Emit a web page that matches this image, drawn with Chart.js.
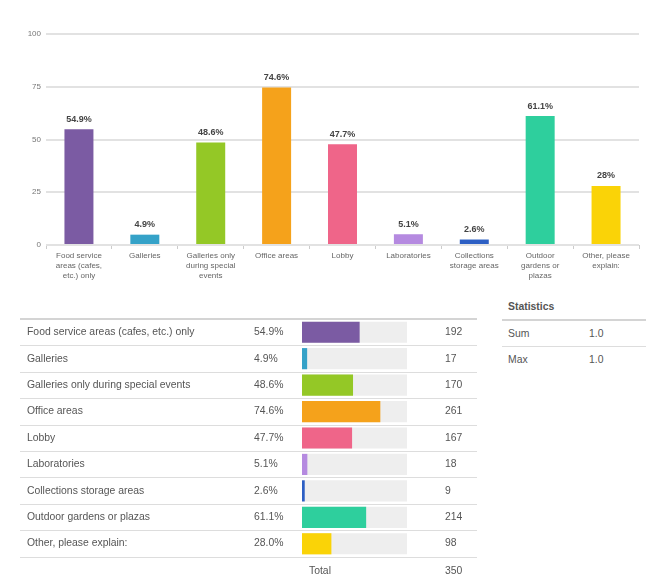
<!DOCTYPE html>
<html>
<head>
<meta charset="utf-8">
<script src="https://cdn.jsdelivr.net/npm/chart.js@4/dist/chart.umd.min.js"></script>
<style>
  body { margin: 0; background: #fff; font-family: "Liberation Sans", Arial, sans-serif; color: #555; }
  #wrap { position: relative; width: 650px; height: 588px; overflow: hidden; }
  .abs { position: absolute; }
  .cell { position: absolute; font-size: 10.4px; line-height: 12px; white-space: nowrap; color: #555; }
  .line { position: absolute; height: 1px; background: #ddd; }
</style>
</head>
<body>
<div id="wrap">
  <div class="abs" style="left:0;top:0;width:650px;height:290px;"><canvas id="topChart"></canvas></div>
  <div class="abs" style="left:302px;top:319px;width:105px;height:238px;"><canvas id="miniChart"></canvas></div>
  <div id="table"></div>
</div>
<script>
const categories = [
  'Food service areas (cafes, etc.) only',
  'Galleries',
  'Galleries only during special events',
  'Office areas',
  'Lobby',
  'Laboratories',
  'Collections storage areas',
  'Outdoor gardens or plazas',
  'Other, please explain:'
];
const tickLabels = [
  ['Food service', 'areas (cafes,', 'etc.) only'],
  ['Galleries'],
  ['Galleries only', 'during special', 'events'],
  ['Office areas'],
  ['Lobby'],
  ['Laboratories'],
  ['Collections', 'storage areas'],
  ['Outdoor', 'gardens or', 'plazas'],
  ['Other, please', 'explain:']
];
const percents = [54.9, 4.9, 48.6, 74.6, 47.7, 5.1, 2.6, 61.1, 28];
const counts = [192, 17, 170, 261, 167, 18, 9, 214, 98];
const total = 350;
const statLabels = ['Sum', 'Max'];
const statValues = ['1.0', '1.0'];
const yTicks = [0, 25, 50, 75, 100];

const palette = ['#7b5ba3', '#35a2c8', '#94c826', '#f5a21b', '#ef6589', '#b58ae0', '#2d5fc4', '#2ecf9d', '#fad307'];
const font = '"Liberation Sans", Arial, sans-serif';

// value labels over the bars
const valueLabels = {
  id: 'valueLabels',
  afterDatasetsDraw(chart) {
    const ctx = chart.ctx;
    const meta = chart.getDatasetMeta(0);
    ctx.save();
    ctx.font = 'bold 9px ' + font;
    ctx.fillStyle = '#444';
    ctx.textAlign = 'center';
    ctx.textBaseline = 'middle';
    meta.data.forEach((bar, i) => {
      ctx.fillText(percents[i] + '%', bar.x, bar.y - 10);
    });
    ctx.restore();
  }
};

new Chart(document.getElementById('topChart'), {
  type: 'bar',
  data: {
    labels: tickLabels,
    datasets: [{
      data: percents,
      backgroundColor: palette,
      barPercentage: 0.44,
      categoryPercentage: 1
    }]
  },
  options: {
    responsive: true,
    maintainAspectRatio: false,
    animation: false,
    layout: { padding: { top: 34, right: 11, left: 0, bottom: 0 } },
    plugins: { legend: { display: false }, tooltip: { enabled: false } },
    scales: {
      x: {
        afterFit: s => { s.height = 45; },
        grid: { drawOnChartArea: false, drawTicks: true, tickLength: 4, color: '#ccc', offset: true },
        border: { display: false },
        ticks: { color: '#666', font: { size: 8, family: font, lineHeight: 1.25 }, padding: 2, maxRotation: 0, autoSkip: false }
      },
      y: {
        min: 0,
        max: 100,
        afterFit: s => { s.width = 46; },
        afterBuildTicks: s => { s.ticks = yTicks.map(v => ({ value: v })); },
        grid: { color: '#e2e2e2', lineWidth: 2, drawTicks: false },
        border: { display: false },
        ticks: { color: '#777', font: { size: 8, family: font }, padding: 5 }
      }
    }
  },
  plugins: [valueLabels]
});

new Chart(document.getElementById('miniChart'), {
  type: 'bar',
  data: {
    labels: categories,
    datasets: [
      { data: percents, backgroundColor: palette, barPercentage: 0.8, categoryPercentage: 1, order: 0 },
      { data: categories.map(() => 100), backgroundColor: '#eeeeee', barPercentage: 0.8, categoryPercentage: 1, order: 1 }
    ]
  },
  options: {
    indexAxis: 'y',
    responsive: true,
    maintainAspectRatio: false,
    animation: false,
    datasets: { bar: { grouped: false } },
    layout: { padding: 0 },
    plugins: { legend: { display: false }, tooltip: { enabled: false } },
    scales: {
      x: { display: false, min: 0, max: 100 },
      y: { display: false }
    }
  }
});

// table text
const table = document.getElementById('table');
function add(html) { table.insertAdjacentHTML('beforeend', html); }
const rowTop = 319, rowH = 26.4;
add(`<div class="line" style="left:20px;top:${rowTop - 1}px;width:457px;height:2px;background:#d4d4d4"></div>`);
categories.forEach((c, i) => {
  const mid = rowTop + rowH * i + rowH / 2;
  add(`<div class="cell" style="left:27px;top:${mid - 6}px">${c}</div>`);
  add(`<div class="cell" style="left:254px;top:${mid - 6}px">${percents[i].toFixed(1)}%</div>`);
  add(`<div class="cell" style="left:445px;top:${mid - 6}px">${counts[i]}</div>`);
  add(`<div class="line" style="left:20px;top:${Math.round(rowTop + rowH * (i + 1))}px;width:457px"></div>`);
});
const totalMid = rowTop + rowH * 9 + 14;
add(`<div class="cell" style="left:309px;top:${totalMid - 6}px">Total</div>`);
add(`<div class="cell" style="left:445px;top:${totalMid - 6}px">${total}</div>`);

add(`<div class="cell" style="left:508px;top:301px;font-weight:bold">Statistics</div>`);
add(`<div class="line" style="left:502px;top:319px;width:144px;height:2px;background:#d4d4d4"></div>`);
statLabels.forEach((s, i) => {
  const mid = 334 + 26 * i;
  add(`<div class="cell" style="left:508px;top:${mid - 6}px">${s}</div>`);
  add(`<div class="cell" style="left:589px;top:${mid - 6}px">${statValues[i]}</div>`);
  if (i === 0) add(`<div class="line" style="left:502px;top:346px;width:144px"></div>`);
});
</script>
</body>
</html>
